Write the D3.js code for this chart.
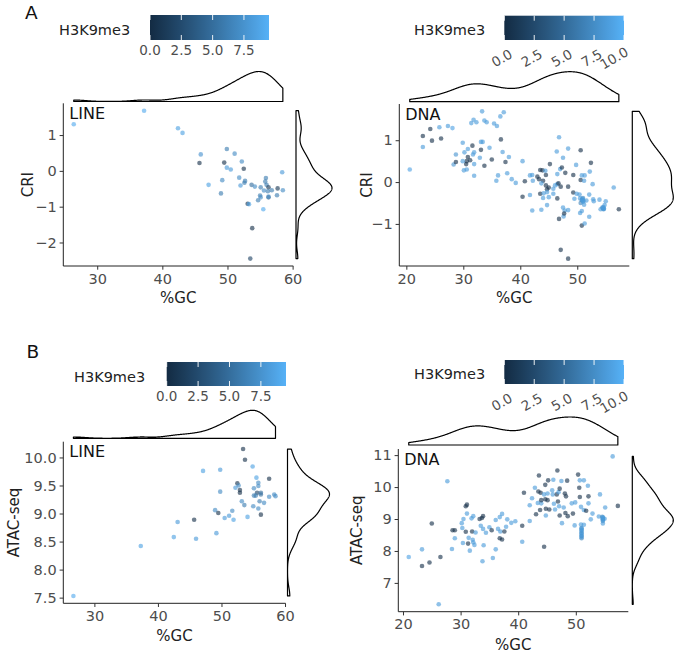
<!DOCTYPE html>
<html><head><meta charset="utf-8">
<script src="https://cdn.jsdelivr.net/npm/d3@7"></script>
<style>body{margin:0;background:#fff} text{font-family:"DejaVu Sans",sans-serif}</style>
</head><body><svg id="c" width="680" height="655"></svg>
<script>
// ---------------- DATA ----------------
// Panel A, LINE: %GC, CRI, H3K9me3
const aLineGC   = [26.4,37.2,42.4,43.1,45.9,45.7,49.9,51.1,49.5,49.9,50.5,52.2,52.5,47.1,49.2,49.0,51.8,52.7,52.6,52.0,53.7,54.2,53.1,53.3,53.8,53.5,55.5,54.7,55.0,55.1,55.1,55.9,55.8,56.0,56.3,56.2,56.8,56.3,56.3,57.7,57.6,58.4,58.5,55.6];
const aLineCRI  = [1.30,1.68,1.19,1.06,0.46,0.22,0.61,0.48,0.23,0.09,0.04,0.26,0.06,-0.39,-0.26,-0.63,-0.19,-0.28,-0.33,-0.41,-0.39,-0.44,-0.92,-0.93,-1.60,-2.45,-1.07,-0.82,-0.69,-0.46,-0.74,-0.20,-0.30,-0.39,-0.46,-0.57,-0.54,-0.74,-0.72,-0.49,-0.68,-0.04,-0.54,-0.55];
const aLineH3   = [9,9,8.5,8.5,7.5,0.5,6,7,0.5,8,8,7,0.5,8.5,7,6,7,6,6,8,5,7,0.5,8.5,0.5,2,9,6,6,6,7,6,6,6,1,6,6,4,7,1,6,8,7,7];

// Panel A, DNA: %GC, CRI, H3K9me3 (last entries: overlapping points in the dense blue clusters)
const aDnaGC  = [20.6,22.9,22.9,24.2,24.5,25.8,26.1,27.3,28.1,28.7,28.3,28.7,29.9,30.2,30.8,31.6,30.8,30.6,30.5,29.9,30.1,30.6,31.2,31.7,31.9,31.9,31.9,33.1,33.4,33.1,32.9,33.7,31.4,31.8,32.3,33.3,33.7,34.1,34.6,35.0,35.4,35.9,36.5,37.1,36.6,36.9,37.4,38.0,36.1,35.8,37.7,38.5,39.2,40.4,40.4,40.8,41.7,42.1,41.7,42.1,42.2,43.0,43.3,43.5,43.9,44.4,44.5,44.0,43.7,43.5,43.7,44.0,44.1,44.5,44.7,45.0,44.7,45.0,44.7,45.2,45.8,45.8,46.1,46.5,46.5,46.5,46.4,46.8,47.0,47.3,47.5,47.1,46.7,46.8,47.1,47.9,47.5,47.6,47.8,47.7,48.4,48.4,48.4,48.4,49.3,49.8,49.3,49.5,50.6,50.6,50.8,51.2,51.3,52.2,52.4,52.7,49.9,50.4,50.5,50.6,50.8,51.0,50.8,51.3,50.5,50.8,51.2,51.6,52.1,52.8,52.9,52.1,53.9,54.4,54.6,54.8,55.0,54.1,56.4,57.3,50.9,51.0,51.0,50.9,51.1,54.5,54.6,54.7,54.6];
const aDnaCRI = [0.30,0.84,1.10,1.27,0.99,1.31,1.04,1.34,1.29,0.66,0.42,0.48,0.94,0.71,0.79,0.87,0.60,0.50,0.43,0.50,0.28,0.30,0.52,0.66,0.71,0.43,0.15,0.96,0.96,0.77,0.58,0.39,1.41,1.49,1.43,1.69,1.47,1.43,0.82,0.54,1.40,1.34,1.57,1.67,1.02,0.72,0.48,0.60,0.16,0.03,0.21,0.07,-0.02,0.50,-0.35,0.02,0.16,0.17,-0.31,-0.68,0.03,0.13,0.07,0.29,0.28,0.27,0.17,0.03,-0.03,-0.28,-0.66,-0.38,-0.27,-0.08,-0.17,-0.13,-0.24,-0.36,-0.55,0.43,-0.28,-0.16,-0.08,-0.05,-0.39,0.19,0.73,1.07,0.31,0.35,0.58,-0.11,-0.03,-0.88,-1.62,0.22,-0.61,-0.82,-0.68,-0.75,0.80,-0.11,-0.67,-1.83,0.17,0.41,-0.25,-0.40,0.76,0.05,0.16,0.03,0.16,0.25,0.46,-0.05,-0.28,-0.30,-0.39,-0.50,-0.43,-0.38,-1.04,-0.99,-0.74,-0.69,-0.54,-0.44,-0.30,-0.41,-0.46,-0.83,-0.42,-0.61,-0.65,-0.55,-0.46,-0.65,-0.13,-0.65,-0.40,-0.44,-0.47,-0.42,-0.45,-0.62,-0.63,-0.64,-0.60];
const aDnaH3  = [9,8.5,0.5,0.5,0.5,8.5,0.5,8.5,9,8,8,0.5,8.5,8.5,8.5,0.5,0.5,0.5,0.5,8.5,8.5,8.5,0.5,8.5,8.5,8.5,8.5,8.5,8.5,0.5,8.5,0.5,8.5,8.5,8.5,8.5,8.5,8.5,8.5,0.5,8.5,8.5,8.5,8.5,0.5,8.5,0.5,8.5,8.5,8.5,8.5,8.5,8.5,8.5,0.5,0.5,8.5,8.5,8.5,8.5,8.5,0.5,0.5,0.5,0.5,8.5,0.5,0.5,8.5,0.5,8.5,8.5,8.5,0.5,0.5,0.5,8.5,8.5,8.5,0.5,8.5,8.5,8.5,8.5,0.5,8.5,8.5,8.5,8.5,0.5,8.5,0.5,0.5,0.5,0.5,0.5,8.5,8.5,8.5,0.5,8.5,0.5,8.5,0.5,0.5,8.5,0.5,8.5,0.5,0.5,8.5,8.5,8.5,8.5,0.5,8.5,8.5,8.5,8.5,7,7,7,0.5,8.5,8.5,8.5,8.5,8.5,8.5,8.5,8.5,8.5,8.5,7,7,8.5,8.5,8.5,8.5,0.5,8.5,8.5,8.5,8.5,8.5,8.5,8.5,8.5,8.5];

// Panel B, LINE: %GC, ATAC-seq, H3K9me3
const bLineGC   = [26.7,37.3,42.5,43.1,46.0,45.7,47.1,49.8,49.8,49.2,49.0,49.5,50.5,51.2,51.7,51.9,53.4,53.7,54.9,52.5,52.2,52.7,52.9,52.9,53.2,53.6,54.1,55.5,55.8,55.8,55.1,55.6,55.1,55.4,56.2,56.2,56.0,55.0,55.8,56.2,56.7,57.5,57.5,58.3,58.5];
const bLineATAC = [7.53,8.42,8.58,8.85,8.55,8.89,9.76,9.78,9.39,8.65,9.06,9.01,8.92,8.96,9.05,8.89,10.15,9.96,9.84,9.54,9.46,9.50,9.42,9.37,9.22,9.15,8.94,9.64,9.55,9.49,9.45,9.37,9.32,9.32,9.37,9.34,9.22,9.13,9.09,8.98,9.19,9.62,9.30,9.34,9.31];
const bLineH3   = [9,8.5,8.5,8,8,0.5,8.5,8,7,8,7,0.5,8,8,7,8.5,0.5,0.5,8.5,0.5,8,7,0.5,0.5,7,6,8.5,8.5,7,7,7,2,6,6,5,5,6,7,7,0.5,7,0.5,7,7,7];

// Panel B, DNA: %GC, ATAC-seq, H3K9me3 (last entries: overlapping points in the dense blue clusters)
const bDnaGC   = [21.0,23.3,23.3,24.6,25.0,26.2,26.5,27.7,28.5,28.6,29.0,29.0,30.2,30.3,30.5,30.4,30.9,30.9,31.1,31.1,31.4,31.3,31.6,32.0,32.1,32.2,32.4,31.9,32.2,32.6,33.3,33.7,33.9,33.5,33.9,34.0,33.8,34.4,35.0,35.4,35.6,36.1,36.1,36.5,36.8,37.2,36.9,36.8,37.2,37.6,37.9,38.1,38.8,39.5,40.7,40.7,41.0,42.0,42.0,42.4,42.9,43.1,43.4,43.6,43.5,43.9,44.0,43.8,44.0,44.5,44.7,44.7,44.8,44.5,44.8,45.1,45.2,45.1,45.4,45.9,46.0,46.1,46.2,46.4,46.7,46.8,47.0,47.2,46.9,47.1,47.2,47.5,47.6,47.9,48.1,48.3,48.2,48.5,48.6,49.5,49.3,49.9,49.8,50.4,50.7,50.6,50.7,50.9,50.9,51.0,51.0,51.0,51.0,51.0,51.4,51.4,51.4,51.8,52.1,52.2,52.2,52.6,52.9,54.2,54.0,54.6,54.7,54.7,54.7,55.0,55.1,56.4,57.3,51.0,51.0,51.0,51.0,51.0,54.7,54.7,54.7,54.7];
const bDnaATAC = [7.81,8.05,7.53,7.64,8.86,6.33,7.81,10.18,8.06,8.65,8.65,8.40,8.87,8.72,9.00,8.25,8.60,9.40,9.45,9.17,8.41,8.23,8.01,8.61,8.35,8.27,8.19,9.02,9.09,8.58,9.00,9.03,9.09,8.79,8.69,8.18,7.68,8.57,8.74,8.65,7.78,8.97,8.05,8.69,9.06,9.16,8.61,8.40,8.36,8.61,8.76,8.99,8.88,8.93,8.79,8.29,9.82,8.94,9.43,9.65,9.98,9.15,9.50,10.36,9.86,9.82,9.49,9.28,9.59,9.77,10.07,9.62,9.32,8.13,9.11,9.59,10.21,9.80,9.30,9.90,9.77,10.23,9.48,9.30,9.77,10.52,9.84,9.95,9.55,9.40,9.11,10.19,8.87,9.36,9.80,9.71,9.19,10.20,9.09,9.17,9.49,9.52,8.80,10.39,10.21,9.98,9.69,9.38,8.83,8.72,8.63,8.55,8.47,8.40,8.82,10.21,9.28,9.26,10.04,9.71,9.49,8.99,9.17,9.77,9.08,9.07,9.01,8.94,8.86,9.01,9.36,10.96,9.41,8.44,8.50,8.58,8.66,8.70,8.97,9.03,9.05,8.99];
const bDnaH3   = [9,8.5,0.5,0.5,0.5,8.5,0.5,8.5,8.5,0.5,0.5,8.5,8.5,8.5,8.5,8.5,0.5,0.5,0.5,8.5,8.5,0.5,8.5,0.5,8.5,8.5,8.5,8.5,8.5,8.5,0.5,0.5,0.5,8.5,8.5,8.5,8.5,8.5,8.5,0.5,8.5,8.5,8.5,8.5,8.5,8.5,8.5,0.5,0.5,0.5,8.5,8.5,8.5,8.5,0.5,8.5,0.5,8.5,8.5,8.5,8.5,0.5,8.5,0.5,0.5,0.5,8.5,0.5,0.5,8.5,0.5,0.5,0.5,0.5,8.5,0.5,0.5,8.5,0.5,8.5,8.5,8.5,8.5,8.5,0.5,0.5,8.5,0.5,0.5,8.5,0.5,8.5,8.5,8.5,0.5,0.5,0.5,0.5,0.5,0.5,8.5,8.5,8.5,0.5,8.5,0.5,0.5,8.5,8.5,7,7,7,7,7,8.5,8.5,8.5,0.5,8.5,0.5,8.5,8.5,8.5,8.5,8.5,7,7,7,8.5,8.5,8.5,8.5,0.5,8.5,8.5,8.5,8.5,8.5,8.5,8.5,8.5,8.5];

// Tick values / labels
const xTicksLine = [30,40,50,60];
const xTicksDna  = [20,30,40,50];
const yTicksACriLine = [-2,-1,0,1];
const yTicksACriDna  = [-1,0,1];
const yTicksBLine = [7.5,8.0,8.5,9.0,9.5,10.0];
const yTicksBDna  = [7,8,9,10,11];
const colorDomainLine = [0, 9.5];
const colorDomainDna  = [0, 10];
const colorTicksLine = [0,2.5,5,7.5];
const colorTicksDna  = [0,2.5,5,7.5,10];

// ---------------- DRAWING ----------------
const svg = d3.select("#c");
const cLow = "#132B43", cHigh = "#56B1F7";
const tickGrey = "#4D4D4D";

function kde(vals, lo, hi, n) {
  const s = vals.slice().sort(d3.ascending);
  const sd = d3.deviation(s);
  const iqr = d3.quantileSorted(s, 0.75) - d3.quantileSorted(s, 0.25);
  const bw = 0.9 * Math.min(sd, iqr / 1.34) * Math.pow(s.length, -0.2);
  const out = [];
  for (let i = 0; i < n; i++) {
    const g = lo + (hi - lo) * i / (n - 1);
    let d = 0;
    for (const v of s) { const u = (g - v) / bw; d += Math.exp(-0.5 * u * u); }
    out.push([g, d / (s.length * bw * Math.sqrt(2 * Math.PI))]);
  }
  return out;
}

function drawPanel(c) {
  const g = svg.append("g");
  const xr = d3.extent(c.xs), yr = d3.extent(c.ys);
  const xe = (xr[1] - xr[0]) * 0.05, ye = (yr[1] - yr[0]) * 0.05;
  const x = d3.scaleLinear().domain([xr[0] - xe, xr[1] + xe]).range([c.px0, c.px1]);
  const y = d3.scaleLinear().domain([yr[0] - ye, yr[1] + ye]).range([c.py1, c.py0]);
  const col = d3.scaleLinear().domain(c.cDomain).range([cLow, cHigh]).interpolate(d3.interpolateLab);

  // axes
  const xa = d3.axisBottom(x).tickValues(c.xTicks).tickSize(3.7).tickPadding(3).tickFormat(d3.format("d"));
  const gx = g.append("g").attr("transform", `translate(0,${c.py1})`).call(xa);
  gx.select(".domain").attr("d", `M${c.px0},0H${c.px1}`).attr("stroke", "#222").attr("stroke-width", 1);
  gx.selectAll(".tick line").attr("stroke", "#333");
  gx.selectAll(".tick text").attr("fill", tickGrey).style("font-size", "14.5px").attr("font-family", "DejaVu Sans").attr("dy", "0.75em");
  const ya = d3.axisLeft(y).tickValues(c.yTicks).tickSize(3.7).tickPadding(3).tickFormat(c.yFmt);
  const gy = g.append("g").attr("transform", `translate(${c.px0},0)`).call(ya);
  gy.select(".domain").attr("d", `M0,${c.py0}V${c.py1}`).attr("stroke", "#222").attr("stroke-width", 1);
  gy.selectAll(".tick line").attr("stroke", "#333");
  gy.selectAll(".tick text").attr("fill", tickGrey).style("font-size", "14.5px").attr("font-family", "DejaVu Sans");

  // axis titles
  g.append("text").attr("x", (c.px0 + c.px1) / 2).attr("y", c.xTitleY).attr("text-anchor", "middle")
    .style("font-size", "15px").attr("fill", "#222").text("%GC");
  g.append("text").attr("transform", `translate(${c.yTitleX},${(c.py0 + c.py1) / 2}) rotate(-90)`)
    .attr("text-anchor", "middle").style("font-size", "15px").attr("fill", "#222").text(c.yTitle);

  // points
  g.append("g").selectAll("circle").data(c.xs.map((v, i) => [v, c.ys[i], c.hs[i]])).join("circle")
    .attr("cx", d => x(d[0])).attr("cy", d => y(d[1])).attr("r", 2.3)
    .attr("fill", d => col(d[2])).attr("fill-opacity", 0.62);

  // label
  g.append("text").attr("x", c.px0 + 6).attr("y", c.py0 + 15.5).style("font-size", "16px").attr("fill", "#111").text(c.label);

  // top marginal density
  const dx = kde(c.xs, xr[0], xr[1], 512);
  const mx = d3.max(dx, d => d[1]);
  const top = d3.scaleLinear().domain([0, mx]).range([c.topBase, c.topBase - c.topH]);
  const pTop = [[xr[0], 0], ...dx, [xr[1], 0]];
  g.append("path").attr("d", d3.line().x(d => x(d[0])).y(d => top(d[1]))(pTop) + "Z")
    .attr("fill", "#fff").attr("stroke", "#000").attr("stroke-width", 1.2).attr("stroke-linejoin", "round");

  // right marginal density
  const dy = kde(c.ys, yr[0], yr[1], 512);
  const my = d3.max(dy, d => d[1]);
  const rt = d3.scaleLinear().domain([0, my]).range([c.rightBase, c.rightBase + c.rightW]);
  const pR = [[yr[0], 0], ...dy, [yr[1], 0]];
  g.append("path").attr("d", d3.line().x(d => rt(d[1])).y(d => y(d[0]))(pR) + "Z")
    .attr("fill", "#fff").attr("stroke", "#000").attr("stroke-width", 1.2).attr("stroke-linejoin", "round");

  // colour legend
  const L = c.leg;
  g.append("text").attr("x", L.titleX).attr("y", L.titleY).style("font-size", "14.5px").attr("fill", "#222").text("H3K9me3");
  const lx = d3.scaleLinear().domain(c.cDomain).range([L.barX0, L.barX1]);
  const gid = "grad" + c.id;
  const grad = svg.append("defs").append("linearGradient").attr("id", gid).attr("x1", "0%").attr("x2", "100%");
  d3.range(0, 21).forEach(i => {
    const v = c.cDomain[0] + (c.cDomain[1] - c.cDomain[0]) * i / 20;
    grad.append("stop").attr("offset", (i * 5) + "%").attr("stop-color", col(v));
  });
  g.append("rect").attr("x", L.barX0).attr("y", L.barY).attr("width", L.barX1 - L.barX0).attr("height", L.barH)
    .attr("fill", `url(#${gid})`);
  c.cTicks.forEach(t => {
    const tx = lx(t);
    g.append("line").attr("x1", tx).attr("x2", tx).attr("y1", L.barY).attr("y2", L.barY + 5).attr("stroke", "#fff").attr("stroke-width", 1).attr("stroke-opacity", 0.9);
    g.append("line").attr("x1", tx).attr("x2", tx).attr("y1", L.barY + L.barH - 5).attr("y2", L.barY + L.barH).attr("stroke", "#fff").attr("stroke-width", 1).attr("stroke-opacity", 0.9);
    const lab = d3.format(".1f")(t);
    if (L.rotate) {
      const shift = -2.5 - 7.5 * (lab.length - 3);
      g.append("text").attr("transform", `translate(${tx + shift},${L.barY + L.barH + 18}) rotate(-30)`)
        .attr("text-anchor", "middle").attr("dy", "0.36em").style("font-size", "13.5px").attr("fill", tickGrey).text(lab);
    } else {
      g.append("text").attr("x", tx).attr("y", L.barY + L.barH + 14.5).attr("text-anchor", "middle")
        .style("font-size", "13.5px").attr("fill", tickGrey).text(lab);
    }
  });
}

const fmtInt = d3.format("d"), fmt1 = d3.format(".1f");

drawPanel({id:"al", xs:aLineGC, ys:aLineCRI, hs:aLineH3, cDomain:colorDomainLine, cTicks:colorTicksLine,
  xTicks:xTicksLine, yTicks:yTicksACriLine, yFmt:fmtInt, label:"LINE", yTitle:"CRI",
  px0:63.3, px1:293.3, py0:103.3, py1:266, xTitleY:303, yTitleX:32.5,
  topBase:101.5, topH:30, rightBase:296, rightW:36,
  leg:{titleX:59, titleY:34.5, barX0:150, barX1:269, barY:15, barH:25, rotate:false}});

drawPanel({id:"ad", xs:aDnaGC, ys:aDnaCRI, hs:aDnaH3, cDomain:colorDomainDna, cTicks:colorTicksDna,
  xTicks:xTicksDna, yTicks:yTicksACriDna, yFmt:fmtInt, label:"DNA", yTitle:"CRI",
  px0:399.3, px1:629.3, py0:104, py1:266, xTitleY:303, yTitleX:372,
  topBase:101.7, topH:30, rightBase:632.3, rightW:41,
  leg:{titleX:414, titleY:35, barX0:504.3, barX1:624, barY:15.7, barH:24.3, rotate:true}});

drawPanel({id:"bl", xs:bLineGC, ys:bLineATAC, hs:bLineH3, cDomain:colorDomainLine, cTicks:colorTicksLine,
  xTicks:xTicksLine, yTicks:yTicksBLine, yFmt:fmt1, label:"LINE", yTitle:"ATAC-seq",
  px0:63.3, px1:285.6, py0:441.7, py1:603.3, xTitleY:641, yTitleX:18.5,
  topBase:438.3, topH:28, rightBase:287.5, rightW:42,
  leg:{titleX:74, titleY:381.5, barX0:166.7, barX1:286, barY:362, barH:24, rotate:false}});

drawPanel({id:"bd", xs:bDnaGC, ys:bDnaATAC, hs:bDnaH3, cDomain:colorDomainDna, cTicks:colorTicksDna,
  xTicks:xTicksDna, yTicks:yTicksBDna, yFmt:fmtInt, label:"DNA", yTitle:"ATAC-seq",
  px0:398.3, px1:628.3, py0:449, py1:611.7, xTitleY:650, yTitleX:361.5,
  topBase:445, topH:28, rightBase:632.3, rightW:41,
  leg:{titleX:414, titleY:378.5, barX0:504.3, barX1:624, barY:360, barH:24, rotate:true}});

svg.append("text").attr("x", 25).attr("y", 18.5).style("font-size", "18.5px").attr("fill", "#111").text("A");
svg.append("text").attr("x", 26.5).attr("y", 358.3).style("font-size", "18.5px").attr("fill", "#111").text("B");
</script></body></html>
